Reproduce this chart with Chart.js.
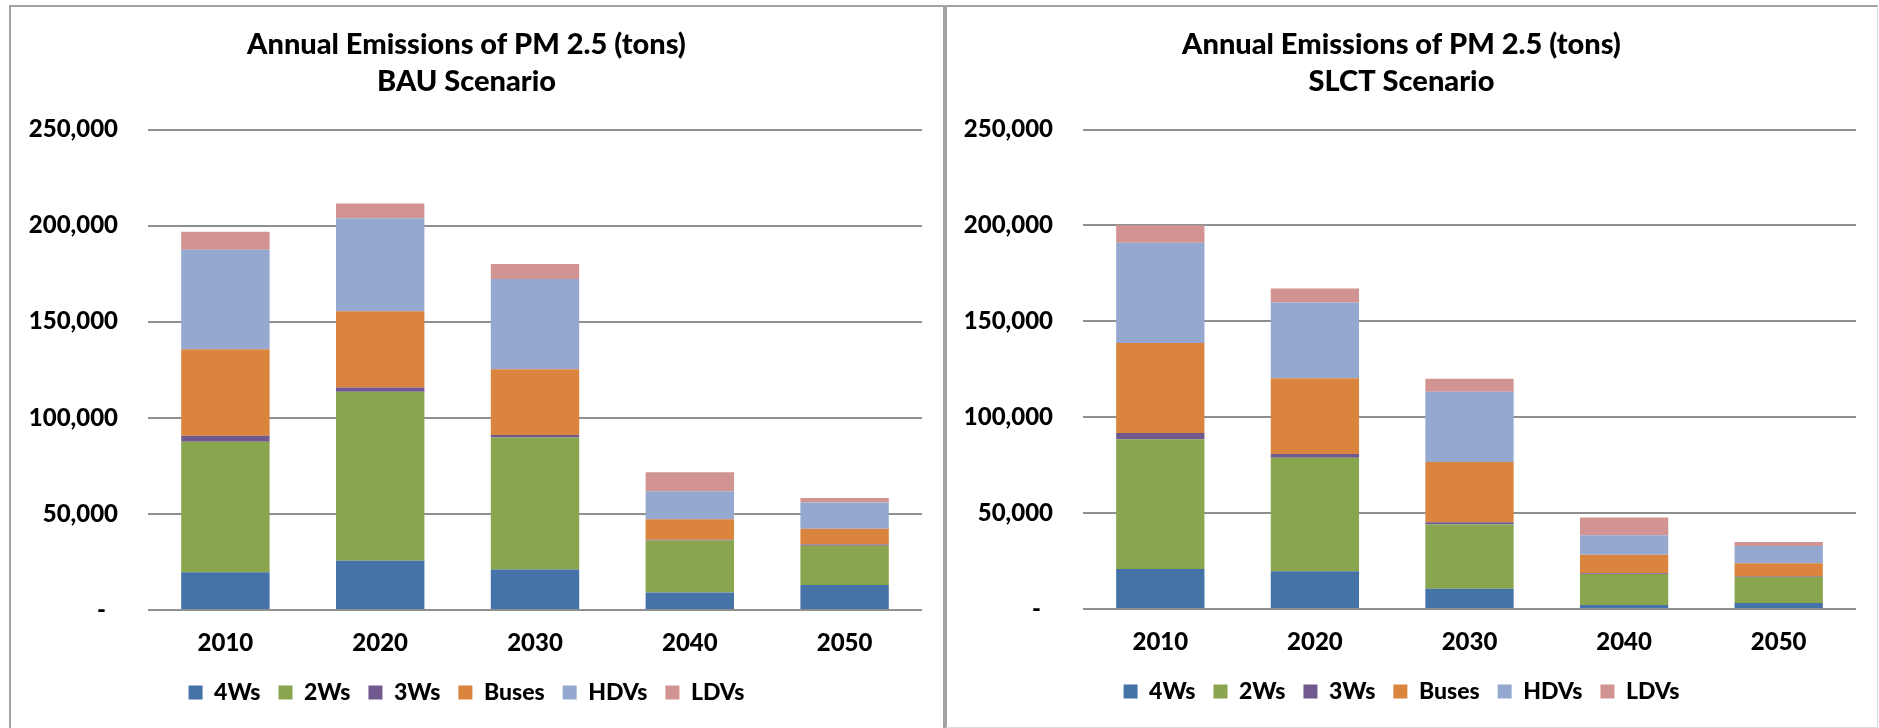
<!DOCTYPE html>
<html>
<head>
<meta charset="utf-8">
<title>Annual Emissions of PM 2.5</title>
<script src="https://cdn.jsdelivr.net/npm/chart.js@4.4.1/dist/chart.umd.min.js"></script>
<style>
  body { margin: 0; background: #fff; width: 1879px; height: 728px; overflow: hidden; position: relative; }
  .panel { position: absolute; box-sizing: border-box; background: #fff; }
  #leftPanel { left: 9px; top: 5px; width: 936px; height: 730px; border: 2px solid #a3a3a3; }
  #rightPanel { left: 945px; top: 5px; width: 933px; height: 723px; border-top: 2px solid #a3a3a3; border-left: 2px solid #a3a3a3; border-right: 1px solid #dadada; border-bottom: 1px solid #dadada; }
  canvas { display: block; }
</style>
</head>
<body>
<div class="panel" id="leftPanel"><canvas id="bauChart" width="932" height="721"></canvas></div>
<div class="panel" id="rightPanel"><canvas id="slctChart" width="930" height="720"></canvas></div>
<script>
// categories and tick labels
var years = ['2010', '2020', '2030', '2040', '2050'];
var seriesNames = ['4Ws', '2Ws', '3Ws', 'Buses', 'HDVs', 'LDVs'];
var yTickLabels = ['-', '50,000', '100,000', '150,000', '200,000', '250,000'];

// BAU scenario (tons)
var bau4Ws   = [19700, 25600, 21100,  9100, 13000];
var bau2Ws   = [67900, 88000, 68600, 27000, 20400];
var bau3Ws   = [ 3100,  2100,  1400,   500,   700];
var bauBuses = [45000, 39700, 34100, 10600,  8200];
var bauHDVs  = [51700, 48400, 47000, 14600, 13600];
var bauLDVs  = [ 9400,  7700,  7800,  9900,  2400];

// SLCT scenario (tons)
var slct4Ws   = [20800, 19700, 10500,  2100,  3100];
var slct2Ws   = [67700, 59200, 33500, 16200, 13600];
var slct3Ws   = [ 3200,  1900,  1200,   400,   200];
var slctBuses = [47000, 39500, 31400,  9600,  7000];
var slctHDVs  = [52200, 39500, 36700, 10100,  8900];
var slctLDVs  = [ 9200,  7300,  6800,  9300,  2100];

var colors = ['#4572a7', '#89a54e', '#71588f', '#db843d', '#95a9d0', '#d29393'];

Chart.defaults.font.family = 'Lato, "Open Sans", sans-serif';
Chart.defaults.font.weight = 900;
Chart.defaults.color = '#000';

function makeChart(id, subtitle, series, axisWidth) {
    var datasets = series.map(function (values, i) {
        return {
            label: seriesNames[i],
            data: values,
            backgroundColor: colors[i],
            borderWidth: 0,
            barPercentage: 0.571,
            categoryPercentage: 1.0
        };
    });

    return new Chart(document.getElementById(id), {
        type: 'bar',
        data: { labels: years, datasets: datasets },
        options: {
            responsive: false,
            animation: false,
            layout: { padding: { left: 0, right: 21, top: 0, bottom: 14 } },
            plugins: {
                title: {
                    display: true,
                    text: ['Annual Emissions of PM 2.5 (tons)', subtitle],
                    font: { size: 29, weight: 900, lineHeight: 1.25 },
                    padding: { top: 20, bottom: 30 }
                },
                legend: {
                    position: 'bottom',
                    labels: {
                        boxWidth: 14,
                        boxHeight: 14,
                        padding: 18,
                        font: { size: 23, weight: 900 }
                    }
                },
                tooltip: { enabled: false }
            },
            scales: {
                x: {
                    stacked: true,
                    grid: { display: false },
                    border: { display: false },
                    ticks: { padding: 11, font: { size: 24, weight: 900 } },
                    afterFit: function (scale) { scale.height = 53; }
                },
                y: {
                    stacked: true,
                    min: 0,
                    max: 250000,
                    border: { display: false },
                    grid: { color: '#8f8f8f', lineWidth: 2, drawTicks: false },
                    ticks: {
                        stepSize: 50000,
                        padding: 30,
                        font: { size: 24, weight: 900 },
                        callback: function (value, index) {
                            return index === 0 ? yTickLabels[index] + '\u2002' : yTickLabels[index];
                        }
                    },
                    afterFit: function (scale) { scale.width = axisWidth; }
                }
            }
        }
    });
}

makeChart('bauChart', 'BAU Scenario', [bau4Ws, bau2Ws, bau3Ws, bauBuses, bauHDVs, bauLDVs], 137);
makeChart('slctChart', 'SLCT Scenario', [slct4Ws, slct2Ws, slct3Ws, slctBuses, slctHDVs, slctLDVs], 136);
</script>
</body>
</html>
